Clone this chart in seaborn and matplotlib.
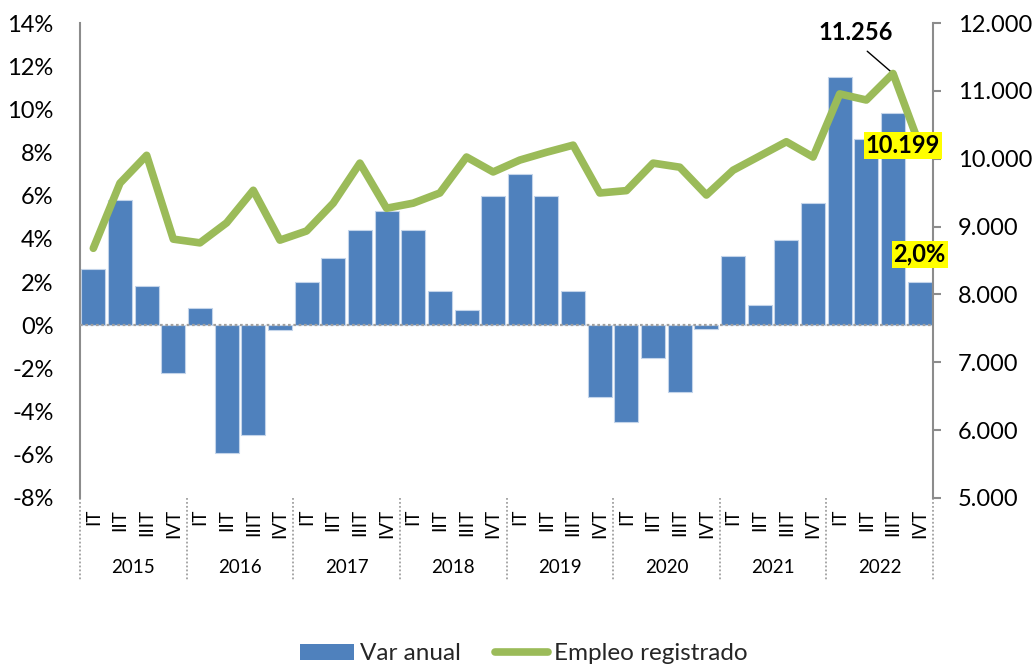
import numpy as np
import pandas as pd
import matplotlib
matplotlib.use("Agg")
import matplotlib.pyplot as plt
import matplotlib.transforms as mtransforms
from matplotlib.patches import Patch
from matplotlib.lines import Line2D
import seaborn as sns

# ---------------- data ----------------
years = ["2015", "2016", "2017", "2018", "2019", "2020", "2021", "2022"]
quarters = ["IT", "IIT", "IIIT", "IVT"]
var_anual = [2.6, 5.8, 1.8, -2.2,
             0.8, -5.9, -5.1, -0.2,
             2.0, 3.1, 4.4, 5.3,
             4.4, 1.6, 0.7, 6.0,
             7.0, 6.0, 1.6, -3.3,
             -4.5, -1.5, -3.1, -0.15,
             3.2, 0.95, 3.95, 5.65,
             11.5, 8.65, 9.85, 2.0]
empleo = [8680, 9640, 10050, 8815,
          8760, 9055, 9535, 8800,
          8935, 9345, 9935, 9270,
          9345, 9495, 10025, 9805,
          9980, 10095, 10200, 9495,
          9530, 9935, 9875, 9465,
          9830, 10040, 10250, 10025,
          10955, 10865, 11256, 10199]
left_ticks = [-8, -6, -4, -2, 0, 2, 4, 6, 8, 10, 12, 14]
left_labels = ["-8%", "-6%", "-4%", "-2%", "0%", "2%", "4%", "6%", "8%", "10%", "12%", "14%"]
right_ticks = [5000, 6000, 7000, 8000, 9000, 10000, 11000, 12000]
right_labels = ["5.000", "6.000", "7.000", "8.000", "9.000", "10.000", "11.000", "12.000"]

labels = [f"{q}\n{y}" for y in years for q in quarters]
df = pd.DataFrame({"periodo": labels, "var": var_anual, "empleo": empleo,
                   "pos": np.arange(len(labels))})

BLUE = "#4F81BD"
GREEN = "#9BBB59"
GREY = "#8C8C8C"
TICK_FS = 17
ANN_FS = 17

sns.set_theme(style="white")
plt.rcParams["font.family"] = ["Lato", "DejaVu Sans"]

fig = plt.figure(figsize=(10.34, 6.65), dpi=100)
ax = fig.add_axes([80 / 1034, 1 - 498 / 665, (933 - 80) / 1034, (498 - 23) / 665])

sns.barplot(data=df, x="periodo", y="var", ax=ax, color=BLUE, width=0.9,
            edgecolor="#c3d4ea", linewidth=0.8, saturation=1, zorder=2)
ax.set_xlim(-0.5, len(labels) - 0.5)
ax.set_ylim(-8, 14)
ax.set_yticks(left_ticks)
ax.set_yticklabels(left_labels, fontsize=TICK_FS, color="black")
ax.tick_params(axis="y", length=0, pad=19)
ax.set_xticks(range(len(labels)))
ax.set_xticklabels(quarters * len(years), rotation=90, fontsize=13.5, color="black", va="top")
ax.tick_params(axis="x", length=0, pad=8)
ax.set_xlabel("")
ax.set_ylabel("")
for s in ["top", "bottom", "right"]:
    ax.spines[s].set_visible(False)
ax.spines["left"].set_color(GREY)
ax.spines["left"].set_linewidth(1.5)
ax.axhline(0, color="#a0a0a0", ls=(0, (1.2, 1.2)), lw=1.6, zorder=3)

# multi-level category axis
trans = mtransforms.blended_transform_factory(ax.transData, ax.transAxes)
for i in range(len(years) + 1):
    xpos = i * 4 - 0.5
    ax.plot([xpos, xpos], [0, -0.1726], transform=trans, clip_on=False,
            color="#a0a0a0", ls=(0, (1, 1.2)), lw=1.3)
for i, y in enumerate(years):
    ax.text(i * 4 + 1.5, -0.147, y, transform=trans, ha="center", va="center",
            fontsize=13.5, color="black")

# line on secondary axis
ax2 = ax.twinx()
sns.lineplot(data=df, x="pos", y="empleo", ax=ax2, color=GREEN, lw=5.5,
             solid_joinstyle="round", solid_capstyle="round", zorder=4)
ax2.set_ylim(5000, 12000)
ax2.set_xlim(-0.5, len(labels) - 0.5)
ax2.set_yticks(right_ticks)
ax2.set_yticklabels(right_labels, fontsize=TICK_FS, color="black")
ax2.tick_params(axis="y", length=6, width=1.5, color=GREY, pad=12, right=True)
ax2.set_ylabel("")
ax2.set_xlabel("")
for s in ["top", "bottom", "left"]:
    ax2.spines[s].set_visible(False)
ax2.spines["right"].set_color(GREY)
ax2.spines["right"].set_linewidth(1.5)

# annotations
imax = int(np.argmax(empleo))
ax2.annotate(f"{empleo[imax]:,}".replace(",", "."), xy=(imax, empleo[imax]),
             xytext=(-27, 21), textcoords="offset points", ha="center", va="bottom",
             fontsize=ANN_FS, fontweight="bold", color="black",
             arrowprops=dict(arrowstyle="-", color="black", lw=1,
                             shrinkA=4, shrinkB=1, relpos=(0.55, 0)))
ilast = len(empleo) - 1
ax2.annotate(f"{empleo[ilast]:,}".replace(",", "."), xy=(ilast, empleo[ilast]),
             xytext=(-12, 0), textcoords="offset points", ha="center", va="center",
             fontsize=ANN_FS, fontweight="bold", color="black", zorder=6,
             bbox=dict(boxstyle="square,pad=0.08", fc="#FFFF00", ec="none"))
ax2.annotate(f"{var_anual[-1]:.1f}%".replace(".", ","), xy=(ilast, var_anual[-1]),
             xycoords=ax.transData, xytext=(0, 20), textcoords="offset points",
             ha="center", va="center", fontsize=ANN_FS, fontweight="bold", color="black",
             zorder=6, bbox=dict(boxstyle="square,pad=0.08", fc="#FFFF00", ec="none"),
             annotation_clip=False)

# legend
handles = [Patch(facecolor=BLUE, edgecolor="none"),
           Line2D([0], [0], color=GREEN, lw=5.5, solid_capstyle="round")]
fig.legend(handles, ["Var anual", "Empleo registrado"], loc="center",
           bbox_to_anchor=(524 / 1034, 1 - 654 / 665), ncol=2, frameon=False,
           fontsize=17.5, handlelength=2.2, handleheight=0.6, handletextpad=0.25,
           columnspacing=1.4)

fig.savefig("out.png", dpi=100)
